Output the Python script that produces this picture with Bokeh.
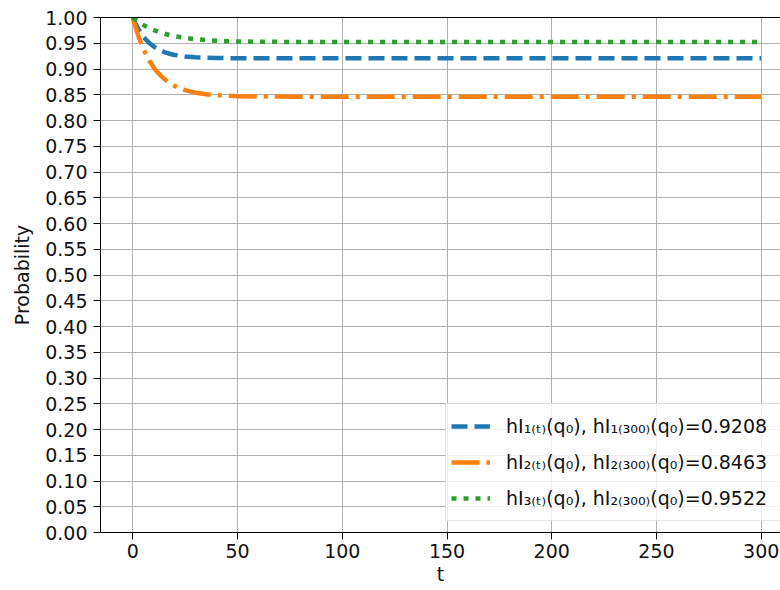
from bokeh.plotting import figure
from bokeh.models import (Range1d, FixedTicker, NumeralTickFormatter, Legend, LegendItem,
                          LinearAxis)
from bokeh.embed import file_html
from bokeh.resources import INLINE

# ---- data ----
t = [0, 1, 2, 3, 4, 5, 6, 8, 10, 12, 15, 18, 20, 25, 30, 35, 40, 45, 50, 60, 80, 100, 150, 200, 250, 300]
h1 = [1.0, 0.9907, 0.9825, 0.9752, 0.9688, 0.9632, 0.9582, 0.9499, 0.9435, 0.9385, 0.9329, 0.9291,
      0.9273, 0.9243, 0.9227, 0.9218, 0.9213, 0.9211, 0.9209, 0.9208, 0.9208, 0.9208, 0.9208, 0.9208,
      0.9208, 0.9208]
h2 = [1.0, 0.9854, 0.9721, 0.9602, 0.9493, 0.9395, 0.9307, 0.9154, 0.9028, 0.8926, 0.8806, 0.8717,
      0.8671, 0.8589, 0.8540, 0.8509, 0.8491, 0.8480, 0.8473, 0.8467, 0.8463, 0.8463, 0.8463, 0.8463,
      0.8463, 0.8463]
h3 = [1.0, 0.9967, 0.9936, 0.9908, 0.9881, 0.9856, 0.9833, 0.9792, 0.9756, 0.9725, 0.9686, 0.9654,
      0.9637, 0.9602, 0.9578, 0.9561, 0.9549, 0.9541, 0.9535, 0.9529, 0.9524, 0.9522, 0.9522, 0.9522,
      0.9522, 0.9522]
labels = [
    "hI\u2081\u208d\u209c\u208e(q\u2080), hI\u2081\u208d\u2083\u2080\u2080\u208e(q\u2080)=0.9208",
    "hI\u2082\u208d\u209c\u208e(q\u2080), hI\u2082\u208d\u2083\u2080\u2080\u208e(q\u2080)=0.8463",
    "hI\u2083\u208d\u209c\u208e(q\u2080), hI\u2082\u208d\u2083\u2080\u2080\u208e(q\u2080)=0.9522",
]
x_ticks = [0, 50, 100, 150, 200, 250, 300]
y_ticks = [round(i * 0.05, 2) for i in range(21)]

FONT = "DejaVu Sans"
FS = "19px"
TXT = "#111111"

p = figure(width=780, height=590, output_backend="svg", toolbar_location=None,
           x_range=Range1d(-15.42, 309.2), y_range=Range1d(0.0, 1.0),
           min_border_left=100, min_border_right=0, min_border_top=17, min_border_bottom=58)
p.outline_line_color = None
p.background_fill_color = "white"
p.border_fill_color = "white"

for ax in (p.xaxis[0], p.yaxis[0]):
    ax.major_label_text_font = FONT
    ax.major_label_text_font_size = FS
    ax.major_label_text_color = TXT
    ax.axis_label_text_font = FONT
    ax.axis_label_text_font_size = FS
    ax.axis_label_text_font_style = "normal"
    ax.axis_label_text_color = TXT
    ax.major_tick_out = 7
    ax.major_tick_in = 0
    ax.minor_tick_line_color = None
    ax.axis_line_color = "black"
    ax.major_tick_line_color = "black"

p.xaxis.ticker = FixedTicker(ticks=x_ticks)
p.yaxis.ticker = FixedTicker(ticks=y_ticks)
p.yaxis.formatter = NumeralTickFormatter(format="0.00")
p.xaxis.axis_label = "t"
p.yaxis.axis_label = "Probability"
p.xaxis.major_label_standoff = 4
p.xaxis.axis_label_standoff = 2
p.yaxis.major_label_standoff = 6
p.yaxis.axis_label_standoff = 9

top = LinearAxis(major_tick_line_color=None, minor_tick_line_color=None,
                 major_label_text_font_size="0px", axis_line_color="black",
                 major_label_standoff=0)
top.ticker = FixedTicker(ticks=[])
p.add_layout(top, "above")

p.xgrid.ticker = FixedTicker(ticks=x_ticks)
p.ygrid.ticker = FixedTicker(ticks=y_ticks)
p.grid.grid_line_color = "#b0b0b0"
p.grid.grid_line_width = 1

r1 = p.line(t, h1, line_color="#1f77b4", line_width=4.5, line_dash="16 7", line_cap="butt")
r2 = p.line(t, h2, line_color="#ff7f0e", line_width=4.5, line_dash="28 7 4 7", line_cap="butt")
r3 = p.line(t, h3, line_color="#2ca02c", line_width=4.5, line_dash="5 7", line_cap="butt")

legend = Legend(items=[LegendItem(label=labels[0], renderers=[r1]),
                       LegendItem(label=labels[1], renderers=[r2]),
                       LegendItem(label=labels[2], renderers=[r3])],
                location=(345, 11))
legend.label_text_font = FONT
legend.label_text_font_size = FS
legend.label_text_color = TXT
legend.glyph_width = 39
legend.glyph_height = 34
legend.label_height = 34
legend.label_width = 290
legend.label_standoff = 16
legend.spacing = 2
legend.padding = 5
legend.margin = 0
legend.border_line_color = "#cccccc"
legend.border_line_width = 1
legend.background_fill_color = "white"
legend.background_fill_alpha = 0.8
p.add_layout(legend, "center")

open("out.html", "w").write(file_html(p, INLINE))
